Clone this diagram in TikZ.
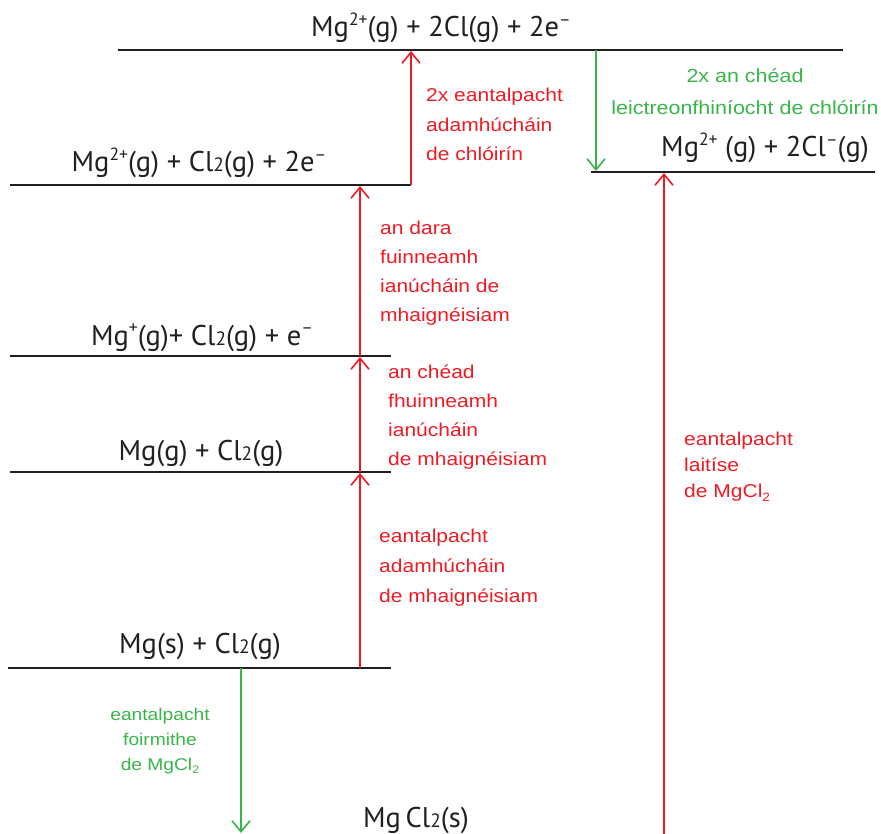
\documentclass[tikz,border=0pt]{standalone}
\usepackage{fontspec}
\usepackage{graphicx}
\usetikzlibrary{arrows.meta}
\setmainfont{PT Sans}
\newfontfamily\lblfont[FakeStretch=1.13]{Liberation Sans}
\newfontfamily\chemfont{PT Sans}
\definecolor{lineblack}{HTML}{231F20}
\definecolor{myred}{HTML}{ED1C24}
\definecolor{mygreen}{HTML}{39B54A}
\newcommand\up[1]{\raisebox{0.42em}{\scalebox{0.62}{#1}}}
\newcommand\lowtwo{\scalebox{0.68}{2}}
\newcommand\subtwo{\raisebox{-0.22em}{\scalebox{0.65}{2}}}
\newcommand\blockL[1]{\begin{tabular}[t]{@{}l@{}}#1\end{tabular}}
\newcommand\blockC[1]{\begin{tabular}[t]{@{}c@{}}#1\end{tabular}}
\tikzset{
  level/.style={draw=lineblack, line width=2.2pt},
  chem/.style={anchor=base, inner sep=0pt, text=lineblack, font=\chemfont\fontsize{28.5}{30}\selectfont},
  redlbl/.style={anchor=base west, inner sep=0pt, text=myred},
  greenlbl/.style={anchor=base, inner sep=0pt, text=mygreen},
  redarrow/.style={draw=myred, line width=1.6pt, -{Straight Barb[length=11pt,width=18pt,line width=1.6pt]}},
  greenarrow/.style={draw=mygreen, line width=1.6pt, -{Straight Barb[length=11pt,width=18pt,line width=1.6pt]}}
}
\begin{document}
\begin{tikzpicture}[x=1pt,y=-1pt]
\useasboundingbox (0,0) rectangle (881,834);
% level coordinates
\coordinate (t1) at (118,50);  \coordinate (t2) at (843,50);
\coordinate (a1) at (10,185);  \coordinate (a2) at (411,185);
\coordinate (r1) at (591,172); \coordinate (r2) at (875,172);
\coordinate (b1) at (10,356);  \coordinate (b2) at (391,356);
\coordinate (c1) at (10,472);  \coordinate (c2) at (391,472);
\coordinate (d1) at (8,668);   \coordinate (d2) at (391,668);
% levels
\draw[level] (t1) -- (t2);
\draw[level] (a1) -- (a2);
\draw[level] (r1) -- (r2);
\draw[level] (b1) -- (b2);
\draw[level] (c1) -- (c2);
\draw[level] (d1) -- (d2);
% chemical texts
\node[chem] (top) at (441,37) {Mg\up{2+}(g) + 2Cl(g) + 2e\up{–}};
\node[chem] (lvA) at (199,172) {Mg\up{2+}(g) + Cl\lowtwo(g) + 2e\up{–}};
\node[chem] (lvR) at (765,157) {Mg\up{2+} (g) + 2Cl\up{–}(g)};
\node[chem] (lvB) at (202,345) {Mg\up{+}(g)+ Cl\lowtwo(g) + e\up{–}};
\node[chem] (lvC) at (201,460) {Mg(g) + Cl\lowtwo(g)};
\node[chem] (lvD) at (200,653) {Mg(s) + Cl\lowtwo(g)};
\node[chem] (prod) at (416,827) {Mg\,Cl\lowtwo(s)};
% arrow anchor coordinates
\coordinate (ea1) at (411,185); \coordinate (ea2) at (411,51);
\coordinate (m1) at (360,668); \coordinate (m2) at (360,473);
\coordinate (m3) at (360,472); \coordinate (m4) at (360,357);
\coordinate (m5) at (360,356); \coordinate (m6) at (360,186);
\coordinate (la1) at (664,834); \coordinate (la2) at (664,173);
\coordinate (ga1) at (596,50); \coordinate (ga2) at (596,171);
\coordinate (gb1) at (241,668); \coordinate (gb2) at (241,833);
% arrows
\draw[redarrow] (ea1) -- (ea2);
\draw[redarrow] (m1) -- (m2);
\draw[redarrow] (m3) -- (m4);
\draw[redarrow] (m5) -- (m6);
\draw[redarrow] (la1) -- (la2);
\draw[greenarrow] (ga1) -- (ga2);
\draw[greenarrow] (gb1) -- (gb2);
% red labels
\node[redlbl, font=\lblfont\fontsize{18.6}{29.5}\selectfont] (lab1) at (426,102)
  {\blockL{2x eantalpacht\\adamhúcháin\\de chlóirín}};
\node[redlbl, font=\lblfont\fontsize{18.6}{29}\selectfont] (lab2) at (380,235)
  {\blockL{an dara\\fuinneamh\\ianúcháin de\\mhaignéisiam}};
\node[redlbl, font=\lblfont\fontsize{18.6}{29.3}\selectfont] (lab3) at (388,378)
  {\blockL{an chéad\\fhuinneamh\\ianúcháin\\de mhaignéisiam}};
\node[redlbl, font=\lblfont\fontsize{18.6}{30}\selectfont] (lab4) at (379,542)
  {\blockL{eantalpacht\\adamhúcháin\\de mhaignéisiam}};
\node[redlbl, font=\lblfont\fontsize{18.6}{26}\selectfont] (lab5) at (684,445)
  {\blockL{eantalpacht\\laitíse\\de MgCl\subtwo}};
% green labels
\node[greenlbl, font=\lblfont\fontsize{19}{32}\selectfont] (lab6) at (745,83)
  {\blockC{2x an chéad\\leictreonfhiníocht de chlóirín}};
\node[greenlbl, font=\lblfont\fontsize{17}{25}\selectfont] (lab7) at (160,720)
  {\blockC{eantalpacht\\foirmithe\\de MgCl\subtwo}};
\end{tikzpicture}
\end{document}
